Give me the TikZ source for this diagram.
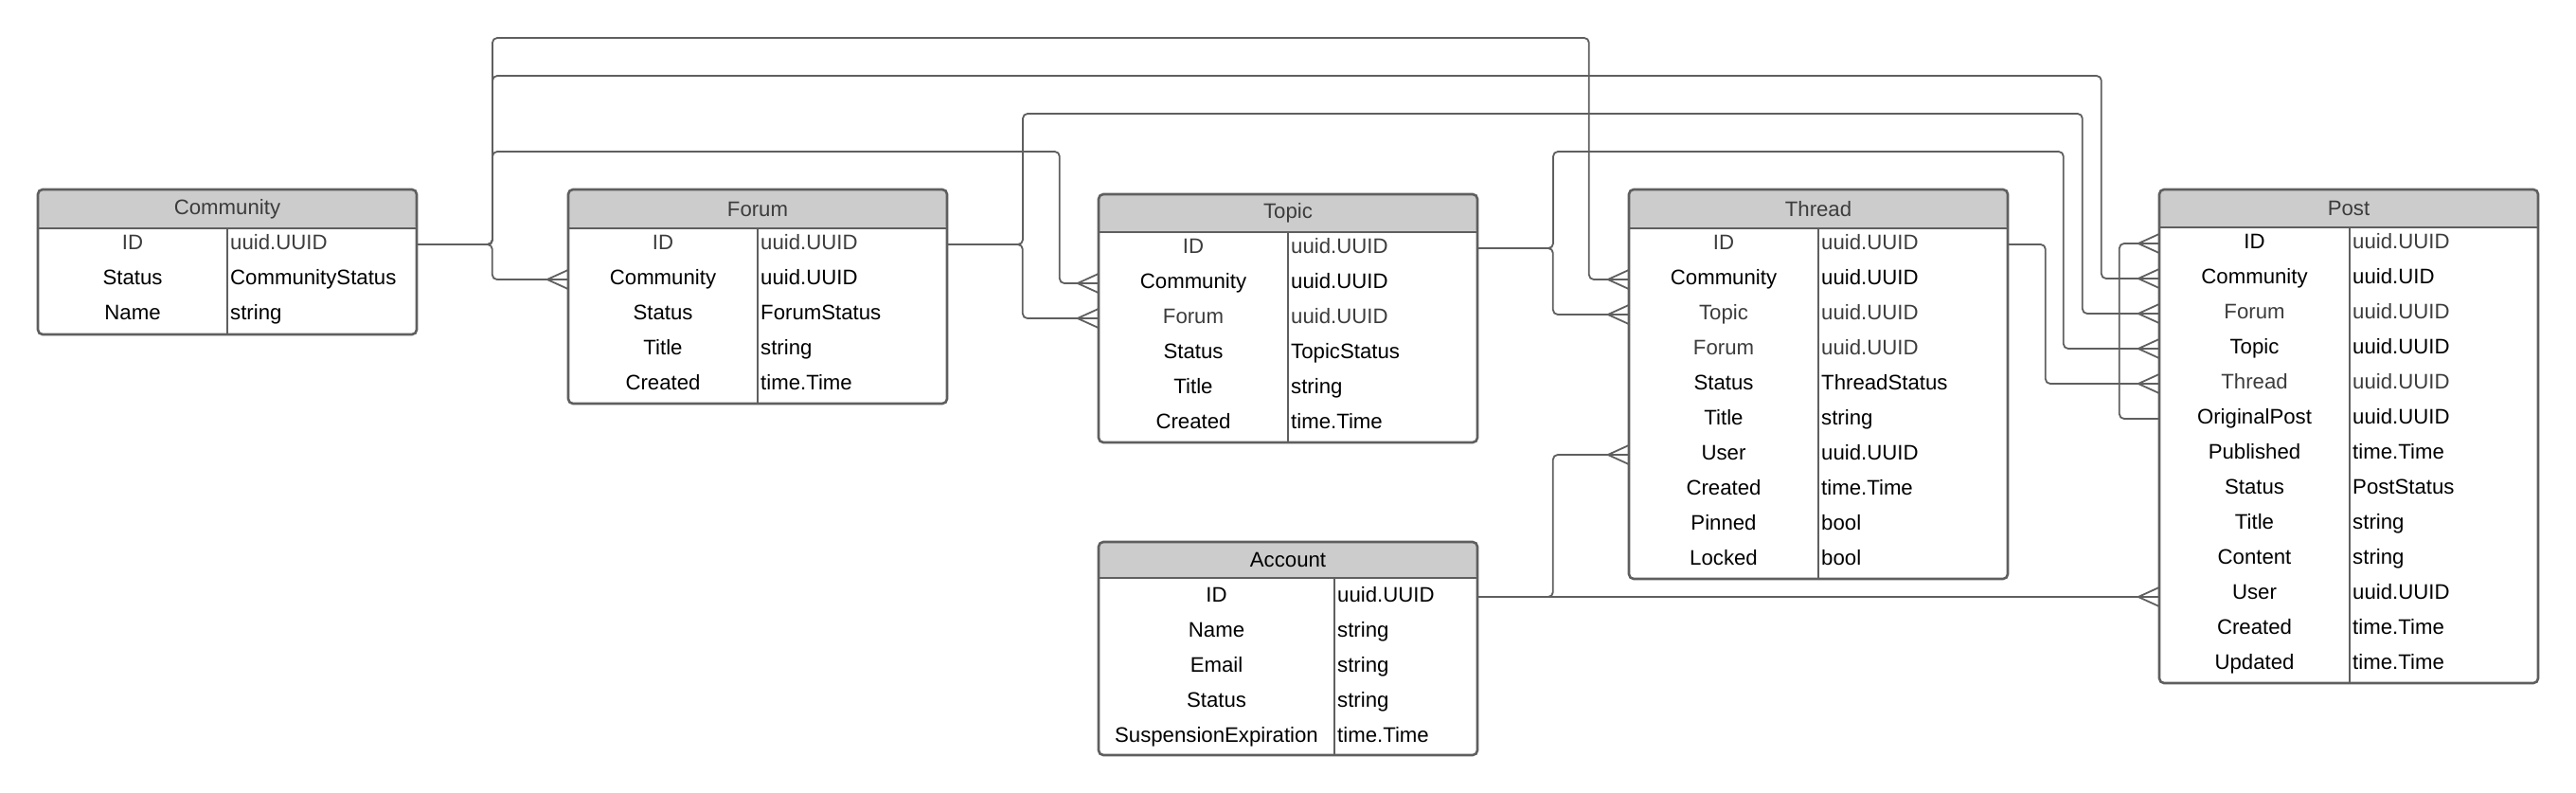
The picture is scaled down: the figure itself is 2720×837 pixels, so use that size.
\documentclass[tikz,border=0pt]{standalone}
\usepackage{fontspec}
\setmainfont{Liberation Sans}
\usepackage{tikz}
\definecolor{linegray}{HTML}{5F5F5F}
\definecolor{hdrgray}{HTML}{CCCCCC}
\definecolor{dimtext}{HTML}{3C3C3C}
\tikzstyle{tbox}=[draw=linegray, line width=2.6pt, rounded corners=5pt]
\tikzstyle{tline}=[draw=linegray, line width=2.6pt]
\tikzstyle{thead}=[fill=hdrgray]
\tikzstyle{ttitle}=[font=\fontsize{22.2}{27}\selectfont, text=dimtext, inner sep=0pt]
\tikzstyle{fname}=[font=\fontsize{22.2}{27}\selectfont, inner sep=0pt, minimum width=200pt, text height=15.5pt, text depth=4.5pt]
\tikzstyle{fval}=[font=\fontsize{22.2}{27}\selectfont, anchor=west, inner xsep=3pt, inner ysep=0pt, text width=194pt, align=left, text height=15.5pt, text depth=4.5pt]
\tikzstyle{dim}=[text=dimtext]
\tikzstyle{conn}=[draw=linegray, line width=1.8pt, rounded corners=5pt]

\begin{document}
\begin{tikzpicture}[x=1pt,y=-1pt]
\useasboundingbox (0,0) rectangle (2720,837);

\fill[thead] (40,241) [rounded corners=5pt] -- (40,200) -- (440,200) -- (440,241) [sharp corners] -- cycle;
\fill[thead] (600,241) [rounded corners=5pt] -- (600,200) -- (1000,200) -- (1000,241) [sharp corners] -- cycle;
\fill[thead] (1160,245) [rounded corners=5pt] -- (1160,205) -- (1560,205) -- (1560,245) [sharp corners] -- cycle;
\fill[thead] (1720,241) [rounded corners=5pt] -- (1720,200) -- (2120,200) -- (2120,241) [sharp corners] -- cycle;
\fill[thead] (2280,240) [rounded corners=5pt] -- (2280,200) -- (2680,200) -- (2680,240) [sharp corners] -- cycle;
\fill[thead] (1160,610) [rounded corners=5pt] -- (1160,572) -- (1560,572) -- (1560,610) [sharp corners] -- cycle;

\draw[tbox] (40,200) rectangle (440,353);
\draw[tline] (40,241) -- (440,241) (240,241) -- (240,353);
\draw[tbox] (600,200) rectangle (1000,426);
\draw[tline] (600,241) -- (1000,241) (800,241) -- (800,426);
\draw[tbox] (1160,205) rectangle (1560,467);
\draw[tline] (1160,245) -- (1560,245) (1360,245) -- (1360,467);
\draw[tbox] (1720,200) rectangle (2120,611);
\draw[tline] (1720,241) -- (2120,241) (1920,241) -- (1920,611);
\draw[tbox] (2280,200) rectangle (2680,721);
\draw[tline] (2280,240) -- (2680,240) (2481,240) -- (2481,721);
\draw[tbox] (1160,572) rectangle (1560,797);
\draw[tline] (1160,610) -- (1560,610) (1409,610) -- (1409,797);

\node[ttitle] (community) at (240,220.5) {Community};
\node[fname,dim] (cid) at (140,258) {ID};
\node[fval,dim] (cidv) at (240,258) {uuid.UUID};
\node[fname] (cst) at (140,295) {Status};
\node[fval] (cstv) at (240,295) {CommunityStatus};
\node[fname] (cnm) at (140,332) {Name};
\node[fval] (cnmv) at (240,332) {string};

\node[ttitle] (forum) at (800,220.5) {Forum};
\node[fname,dim] (fid) at (700,258) {ID};
\node[fval,dim] (fidv) at (800,258) {uuid.UUID};
\node[fname] (fcom) at (700,295) {Community};
\node[fval] (fcomv) at (800,295) {uuid.UUID};
\node[fname] (fst) at (700,332) {Status};
\node[fval] (fstv) at (800,332) {ForumStatus};
\node[fname] (ftit) at (700,369) {Title};
\node[fval] (ftitv) at (800,369) {string};
\node[fname] (fcre) at (700,406) {Created};
\node[fval] (fcrev) at (800,406) {time.Time};

\node[ttitle] (topic) at (1360,225) {Topic};
\node[fname,dim] (tid) at (1260,262) {ID};
\node[fval,dim] (tidv) at (1360,262) {uuid.UUID};
\node[fname] (tcom) at (1260,299) {Community};
\node[fval] (tcomv) at (1360,299) {uuid.UUID};
\node[fname,dim] (tfor) at (1260,336) {Forum};
\node[fval,dim] (tforv) at (1360,336) {uuid.UUID};
\node[fname] (tst) at (1260,373) {Status};
\node[fval] (tstv) at (1360,373) {TopicStatus};
\node[fname] (ttit) at (1260,410) {Title};
\node[fval] (ttitv) at (1360,410) {string};
\node[fname] (tcre) at (1260,447) {Created};
\node[fval] (tcrev) at (1360,447) {time.Time};

\node[ttitle] (thread) at (1920,220.5) {Thread};
\node[fname,dim] (thid) at (1820,258) {ID};
\node[fval,dim] (thidv) at (1920,258) {uuid.UUID};
\node[fname] (thcom) at (1820,295) {Community};
\node[fval] (thcomv) at (1920,295) {uuid.UUID};
\node[fname,dim] (thtop) at (1820,332) {Topic};
\node[fval,dim] (thtopv) at (1920,332) {uuid.UUID};
\node[fname,dim] (thfor) at (1820,369) {Forum};
\node[fval,dim] (thforv) at (1920,369) {uuid.UUID};
\node[fname] (thst) at (1820,406) {Status};
\node[fval] (thstv) at (1920,406) {ThreadStatus};
\node[fname] (thtit) at (1820,443) {Title};
\node[fval] (thtitv) at (1920,443) {string};
\node[fname] (thusr) at (1820,480) {User};
\node[fval] (thusrv) at (1920,480) {uuid.UUID};
\node[fname] (thcre) at (1820,517) {Created};
\node[fval] (thcrev) at (1920,517) {time.Time};
\node[fname] (thpin) at (1820,554) {Pinned};
\node[fval] (thpinv) at (1920,554) {bool};
\node[fname] (thlck) at (1820,591) {Locked};
\node[fval] (thlckv) at (1920,591) {bool};

\node[ttitle] (post) at (2480,220) {Post};
\node[fname,minimum width=201pt] (pid) at (2380.5,257) {ID};
\node[fval,dim,text width=193pt] (pidv) at (2481,257) {uuid.UUID};
\node[fname,minimum width=201pt] (pcom) at (2380.5,294) {Community};
\node[fval,text width=193pt] (pcomv) at (2481,294) {uuid.UID};
\node[fname,dim,minimum width=201pt] (pfor) at (2380.5,331) {Forum};
\node[fval,dim,text width=193pt] (pforv) at (2481,331) {uuid.UUID};
\node[fname,minimum width=201pt] (ptop) at (2380.5,368) {Topic};
\node[fval,text width=193pt] (ptopv) at (2481,368) {uuid.UUID};
\node[fname,dim,minimum width=201pt] (pthr) at (2380.5,405) {Thread};
\node[fval,dim,text width=193pt] (pthrv) at (2481,405) {uuid.UUID};
\node[fname,minimum width=201pt] (porg) at (2380.5,442) {OriginalPost};
\node[fval,text width=193pt] (porgv) at (2481,442) {uuid.UUID};
\node[fname,minimum width=201pt] (ppub) at (2380.5,479) {Published};
\node[fval,text width=193pt] (ppubv) at (2481,479) {time.Time};
\node[fname,minimum width=201pt] (pst) at (2380.5,516) {Status};
\node[fval,text width=193pt] (pstv) at (2481,516) {PostStatus};
\node[fname,minimum width=201pt] (ptit) at (2380.5,553) {Title};
\node[fval,text width=193pt] (ptitv) at (2481,553) {string};
\node[fname,minimum width=201pt] (pcon) at (2380.5,590) {Content};
\node[fval,text width=193pt] (pconv) at (2481,590) {string};
\node[fname,minimum width=201pt] (pusr) at (2380.5,627) {User};
\node[fval,text width=193pt] (pusrv) at (2481,627) {uuid.UUID};
\node[fname,minimum width=201pt] (pcre) at (2380.5,664) {Created};
\node[fval,text width=193pt] (pcrev) at (2481,664) {time.Time};
\node[fname,minimum width=201pt] (pupd) at (2380.5,701) {Updated};
\node[fval,text width=193pt] (pupdv) at (2481,701) {time.Time};

\node[ttitle,text=black] (account) at (1360,591) {Account};
\node[fname,minimum width=249pt] (aid) at (1284.5,630) {ID};
\node[fval,text width=145pt] (aidv) at (1409,630) {uuid.UUID};
\node[fname,minimum width=249pt] (anm) at (1284.5,667) {Name};
\node[fval,text width=145pt] (anmv) at (1409,667) {string};
\node[fname,minimum width=249pt] (aem) at (1284.5,704) {Email};
\node[fval,text width=145pt] (aemv) at (1409,704) {string};
\node[fname,minimum width=249pt] (ast) at (1284.5,741) {Status};
\node[fval,text width=145pt] (astv) at (1409,741) {string};
\node[fname,minimum width=249pt] (asus) at (1284.5,778) {SuspensionExpiration};
\node[fval,text width=145pt] (asusv) at (1409,778) {time.Time};

\coordinate (pusrend) at (aidv.east -| pusr.west);

\draw[conn] (cidv.east) -| ([xshift=-80pt]fcom.west) -- (fcom.west);
\draw[conn] (cidv.east) -| (520,160) -| ([xshift=-41pt]tcom.west) -- (tcom.west);
\draw[conn] (cidv.east) -| (520,40) -| ([xshift=-42pt]thcom.west) -- (thcom.west);
\draw[conn] (cidv.east) -| (520,80) -| ([xshift=-61pt]pcom.west) -- (pcom.west);
\draw[conn] (fidv.east) -| ([xshift=-80pt]tfor.west) -- (tfor.west);
\draw[conn] (fidv.east) -| (1080,120) -| ([xshift=-81pt]pfor.west) -- (pfor.west);
\draw[conn] (tidv.east) -| ([xshift=-80pt]thtop.west) -- (thtop.west);
\draw[conn] (tidv.east) -| (1640,160) -| ([xshift=-101pt]ptop.west) -- (ptop.west);
\draw[conn] (thidv.east) -| ([xshift=-120pt]pthr.west) -- (pthr.west);
\draw[conn] (porg.west) -| ([xshift=-42pt]pid.west) -- (pid.west);
\draw[conn] (aidv.east) -| ([xshift=-80pt]thusr.west) -- (thusr.west);
\draw[conn] (aidv.east) -- (pusrend);

\foreach \n in {fcom.west,tcom.west,tfor.west,thcom.west,thtop.west,thusr.west,pid.west,pcom.west,pfor.west,ptop.west,pthr.west,pusrend}
  \draw[conn] ([xshift=-22pt]\n) -- ([yshift=10pt]\n) ([xshift=-22pt]\n) -- ([yshift=-10pt]\n);

\end{tikzpicture}
\end{document}
